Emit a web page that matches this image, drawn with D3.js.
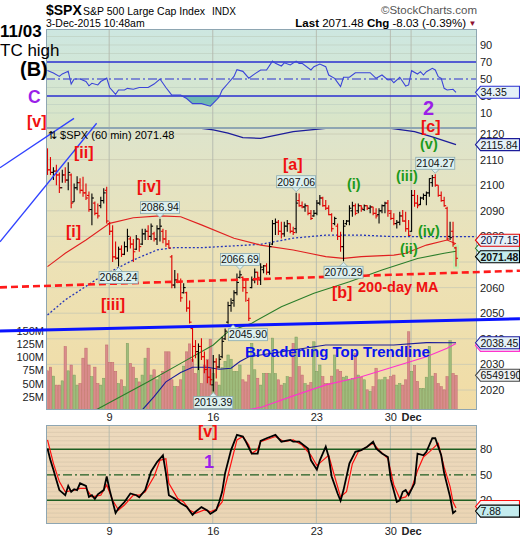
<!DOCTYPE html>
<html>
<head>
<meta charset="utf-8">
<script src="https://d3js.org/d3.v7.min.js"></script>
<style>
html,body{margin:0;padding:0;background:#ffffff;}
svg{display:block;font-family:"Liberation Sans",Arial,Helvetica,sans-serif;}
</style>
</head>
<body>
<svg id="chart" width="520" height="540"></svg>
<script>
// ---------------- DATA ----------------
const dayTickIndex = [21, 56, 91, 116, 123];
const dayTickLabels = ["9", "16", "23", "30", "Dec"];
const priceTicks = [2020, 2030, 2040, 2050, 2060, 2080, 2090, 2100, 2110, 2120];
const priceGridTicks = [2020, 2030, 2040, 2050, 2060, 2070, 2080, 2090, 2100, 2110, 2120];
const volumeTicks = [25, 50, 75, 100, 125, 150];
const rsiTicks = [10, 30, 50, 70, 90];
const stochTicks = [20, 50, 80];

const highs = [2114.4,2111,2107,2108,2105,2106,2107,2109,2104.6,2100.7,
2103.5,2102.7,2103.3,2100.7,2097.5,2096.8,2093.6,2092.9,2095.5,2098.8,
2099.4,2085.7,2084.4,2078,2076,2076.5,2078,2083,2080,2079,
2080.5,2079,2083,2083,2084.4,2085,2081.8,2084.4,2086.94,2083,
2082.5,2078.6,2072.7,2066.9,2065.6,2063.6,2061.7,2058.4,2055,2044.7,
2039.5,2038.2,2040.2,2035,2031.7,2028.4,2033.7,2032.4,2034,2040.8,
2044,2054.5,2055.8,2059,2065.5,2066.69,2064.3,2063,2056,2064.3,
2067.5,2066.2,2069.5,2068.8,2069.5,2077.3,2086.4,2087,2086.4,2085.7,
2085.7,2086.4,2085,2083.8,2097.06,2096.8,2093.6,2092.9,2092.2,2090.3,
2090.3,2094.2,2096.2,2095.5,2094.2,2092.2,2089,2087.7,2085,2081.8,
2086.4,2086.4,2092.2,2093.5,2092.9,2092.9,2092.2,2092.5,2092.2,2092.2,
2091.6,2091,2091,2092.5,2093.5,2094.2,2090.3,2089,2086.4,2089.6,
2090.3,2089.6,2086.4,2098.1,2098.1,2096.2,2095.5,2096.8,2097.5,2102.7,
2104,2104.27,2100,2097.5,2095.5,2091.6,2085.7,2085.7,2076];

const lows = [2104,2104,2102,2100,2097,2101,2101,2098,2091,2093.5,
2098,2096.8,2095.5,2094.2,2089.6,2084.4,2088.3,2087,2091,2092.9,
2085,2080.5,2070,2071,2068.24,2072,2072.7,2074,2075.3,2070,
2074.7,2074,2076.6,2078.6,2078.6,2078.6,2078,2076.6,2078,2077.3,
2076,2075.3,2059.7,2059.7,2061.7,2054.5,2057.7,2050.6,2046,2031,
2032.4,2027.8,2031.7,2026.5,2022.6,2021.9,2019.39,2024.5,2028.5,2032.4,
2039.5,2045.9,2050.6,2052.5,2057,2063.6,2058.4,2054.5,2047,2059.7,
2061.7,2061,2061,2065.6,2065,2065,2076.6,2080.5,2080.5,2079.2,
2079.9,2081.8,2081.2,2080.5,2081.2,2091.6,2091,2089.6,2088.3,2086.4,
2087.7,2088.3,2092.2,2091.6,2090.3,2088.3,2081.8,2084.4,2078.6,2074,
2070.29,2084.4,2084.4,2087.7,2088.3,2089,2089.6,2089.9,2090.3,2089,
2088.3,2087,2085,2089,2089,2087.7,2086.4,2084.4,2083.1,2084.4,
2085.7,2081.8,2080.2,2081.8,2091.6,2091,2092.2,2094.2,2092.2,2095.5,
2099.4,2099.4,2095.5,2093.5,2091.6,2078.6,2078.6,2076,2068.2];

const opens = [2110,2106,2105,2105.5,2104,2099,2104,2102,2104,2093.5,
2099,2101,2098,2097,2096,2090.5,2093,2089,2092,2094,
2098,2085,2082,2072,2071.5,2075,2073,2076,2079,2077,
2075,2079,2077,2081,2082,2080,2081,2079,2083,2082,
2079,2077,2072,2061,2063,2062,2058,2058,2052,2044,
2037,2035,2037,2033,2028,2025,2022,2031,2029,2033,
2040,2046.5,2053,2055,2058,2064,2064,2060,2055,2060,
2063,2066,2063,2067,2068.5,2066,2077,2085,2085.5,2082,
2081,2084,2085,2082,2083,2094,2092,2091.5,2092,2089,
2088,2089,2093,2095,2092,2091,2088.5,2085,2084,2080,
2076,2085,2086,2090,2092,2090,2092,2090.5,2092,2091,
2091.5,2089,2088.5,2090,2092,2093,2089,2087,2085,2085.5,
2088,2086,2083,2082,2096,2093,2092.5,2095,2096,2097,
2101,2103,2100,2096,2094,2091,2080,2082,2075.5];

const closes = [2106,2105,2105.5,2104,2099,2104,2102,2105,2093,2099,
2101,2098,2097,2095,2090.5,2095,2089,2088,2094,2097,
2086,2082,2072,2071.5,2075,2073,2076,2080,2077,2074,
2079,2076,2081,2082,2080,2084,2079,2083,2084,2079,
2077,2075.5,2061,2063,2062,2056,2060,2052,2046.5,2037,
2035,2037,2033,2028,2025,2024,2031,2029,2032,2039,
2043,2053,2054,2058,2062,2065,2060,2058,2048,2063,
2066,2064,2068,2068.5,2066,2076,2085,2085.5,2082,2081,
2084,2085,2082,2081.5,2093,2092,2091.5,2092,2089,2087,
2089,2093,2095,2092,2091,2088.5,2083,2087,2080,2076,
2084,2086,2091,2092,2089,2092,2091,2092,2091,2091.5,
2089,2088,2090,2092,2093,2090,2087,2085,2085.5,2088,
2086,2083,2080.4,2096,2093,2092,2095,2096,2097,2102.6,
2103,2100,2096,2094,2092,2079,2079.51,2077,2071.48];

// volume in millions
const volumes = [74,81,64,47,47,55,120,74,85,66,
47,50,98,117,85,63,81,50,47,60,
123,90,90,73,50,57,44,126,88,81,
60,53,66,98,117,66,76,57,63,73,
110,110,57,44,44,57,83,110,125,96,
69,107,50,85,96,134,69,53,47,80,
92,104,96,73,73,85,57,53,66,126,
76,60,47,69,69,69,136,69,57,47,
50,63,62,126,138,82,66,50,47,52,
129,73,85,63,50,50,64,104,76,73,
62,64,57,60,107,66,62,57,38,35,
44,79,57,57,62,57,63,66,47,50,
47,57,148,73,84,54,41,41,62,120,
64,69,50,44,38,63,131,69,65.5];

// RSI(14): [bar index, value]
const rsiPoints = [[0,60],[2,57],[4,53],[5,56],[7,59],[8,44],[9,50],[11,50],[13,47],[14,42],[15,45],[17,43],[18,47],[20,51],[21,40],[23,32],[24,37],[26,37],[27,39],[29,38],[31,40],[34,40],[36,44],[38,50],[40,40],[42,31],[45,31],[47,27],[49,21],[52,21],[55,18],[57,25],[58,29],[59,37],[61,45],[63,53],[64,61],[66,59],[68,51],[70,56],[72,60.6],[74,60.6],[76,71],[77,68.4],[79,65.3],[80,69],[82,66.5],[84,71],[85,68.4],[86,68.4],[89,60.6],[90,64.5],[92,67.6],[94,64.5],[95,54.7],[97,50.8],[99,41],[100,52],[102,52],[104,57.4],[107,57.4],[109,57.4],[111,50.8],[113,54.7],[115,48.8],[116,49.6],[117,45.6],[119,52],[121,41.8],[122,43],[123,59.8],[125,55.9],[126,58.6],[127,54.7],[128,58.6],[130,62.6],[131,60.6],[132,52.7],[133,50.8],[134,39],[135,37],[137,37.9],[138,34.35]];

// Slow stochastics %K (black) and %D (red): [bar index, value]
const stochK = [[0,81],[1,67],[2,56],[3,44],[4,32],[6,26],[7,37],[8,30],[9,33],[10,32],[11,40],[13,37],[14,24],[15,26],[16,21.5],[17,27],[19,32],[20,48],[21,32],[23,5],[24,10.5],[26,18],[28,28],[30,26],[31,23.5],[33,32],[35,54],[37,65],[39,73],[40,52],[41,26],[43,22],[45,16.5],[47,12.5],[49,3],[50,6.5],[52,12],[54,8],[55,4],[57,8.5],[58,18],[59,30],[60,52],[62,79],[64,97],[66,95],[67,89],[69,75],[71,75],[72,90],[74,93],[77,97],[79,89],[82,91],[83,89],[85,89],[88,81],[89,67],[91,56],[92,67],[94,83],[95,71],[96,48],[98,28],[99,19.5],[100,32],[102,63.5],[104,77],[106,79],[108,83],[110,89],[111,81],[113,75],[115,71],[116,44],[118,18],[119,20],[120,30],[121,32],[122,26],[124,40],[125,75],[127,73],[128,77],[130,93],[131,93],[133,73],[134,52],[136,24],[137,5],[138,7.88]];
const stochD = [[0,91],[2,63.5],[4,42],[6,30],[9,32],[11,34],[13,34],[15,24],[18,26],[20,38],[22,20],[24,8.6],[26,14.5],[29,26],[31,26],[33,30],[36,48],[38,67],[40,69],[41,40],[44,22],[46,18],[48,8.6],[50,4.7],[53,8.6],[55,6.6],[57,9.4],[59,18],[60,36],[62,63.5],[64,91],[66,95],[68,85],[69,75],[71,80],[72,89],[77,95],[80,89],[83,91],[86,85],[89,73],[91,61],[93,67],[95,73],[97,48],[99,24],[101,30],[103,63],[105,77],[107,81],[110,87],[112,79],[115,69],[117,38],[119,22],[121,24],[123,34],[125,55],[127,71],[129,77],[132,87],[134,59],[136,36],[137,18],[138,10.9]];

// Price overlays: [bar index, price]
const maRed = [[0,2068.2],[6,2073.4],[13,2078.6],[21,2085.1],[29,2087.3],[38,2088],[45,2087.7],[52,2084.5],[63,2079.3],[72,2076.6],[83,2074.7],[94,2072.1],[100,2071.4],[106,2072.1],[117,2072.7],[121,2073.4],[128,2076.6],[135,2078.6],[138,2077.15]];
const maBlueDotted = [[0,2049.3],[6,2055.2],[18,2064.3],[29,2070.8],[37,2074.7],[43,2075.6],[52,2075.6],[63,2076.3],[72,2076.9],[83,2079.3],[94,2080.5],[106,2080.5],[117,2079.9],[138,2079.9],[146,2079.9]];
const maUpper = [[28,2125],[33,2122.4],[43,2122.2],[52,2122.2],[56,2121.6],[61,2120.3],[66,2118.6],[72,2118.3],[83,2120.9],[94,2122.2],[116,2122.2],[124,2120.9],[130,2118.9],[138,2115.84]];
const maGreen = [[16,2012],[34,2023.2],[45,2030.4],[56,2037.6],[61,2042.8],[69,2046.1],[79,2052.5],[90,2057.8],[102,2062.3],[113,2066.9],[125,2071.4],[134,2073.4],[138,2074.2]];
const maNavy = [[32,2012.2],[36,2017.4],[40,2023.2],[45,2026.8],[49,2028.9],[54,2028.9],[58,2028.1],[62,2028.5],[65,2031.1],[68,2033],[83,2035.6],[94,2037.6],[117,2037.6],[128,2038.5],[138,2038.45]];
const maMagenta = [[67,2012.2],[72,2013.2],[83,2017.7],[94,2022],[106,2025.2],[117,2029.1],[128,2033],[135,2036.3],[138,2038.2]];

// Drawn trendlines: [bar index, price]
const broadeningTrend = [[-16.05,2043.05],[159.6,2047.8]];
const dayMA200 = [[-16.05,2060.1],[159.6,2066.6]];
const wedgeLineA = [[-16.05,2106.8],[8.95,2126.1]];
const wedgeLineB = [[-16.05,2077.9],[16.6,2124.2]];

// Price callouts
const calloutValues = [2097.06, 2086.94, 2104.27, 2066.69, 2068.24, 2070.29, 2045.90, 2019.39];
const calloutIndex = [84, 38, 131, 65, 24, 100, 61, 56];
const calloutSide = ["high","high","high","high","low","low","low","low"];

// ---------------- LAYOUT ----------------
const svg = d3.select("#chart");
const L = 46, R = 477;
const rsiTop = 29, rsiBot = 128, mainTop = 128, mainBot = 410, stoTop = 425, stoBot = 524;

const x = d3.scaleLinear().domain([0, 138]).range([47.5, 456]);
const yP = d3.scaleLinear().domain([2020, 2120]).range([390, 134]);
const yV = d3.scaleLinear().domain([0, 150]).range([409.9, 330.7]);
const yR = d3.scaleLinear().domain([0, 100]).range([121.5, 36.5]);
const yS = d3.scaleLinear().domain([0, 100]).range([517.3, 432.3]);

const defs = svg.append("defs");
function grad(id, stops) {
  const g = defs.append("linearGradient").attr("id", id).attr("x1", 0).attr("y1", 0).attr("x2", 0).attr("y2", 1);
  stops.forEach(s => g.append("stop").attr("offset", s[0]).attr("stop-color", s[1]));
}
grad("gRsi", [[0, "#cde7e1"], [1, "#dae5c6"]]);
grad("gMain", [[0, "#dde4cc"], [0.45, "#ece2b7"], [1, "#f1dca5"]]);
grad("gSto", [[0, "#ecd9bd"], [1, "#ebd5b4"]]);
function clip(id, x0, y0, x1, y1) {
  defs.append("clipPath").attr("id", id).append("rect").attr("x", x0).attr("y", y0).attr("width", x1 - x0).attr("height", y1 - y0);
}
clip("cRsi", L, rsiTop, R, rsiBot);
clip("cMain", L, mainTop, R, mainBot);
clip("cSto", L, stoTop, R, stoBot);
clip("cRsiLow", L, yR(30), R, rsiBot);
clip("cRsiHigh", L, rsiTop, R, yR(70));

// panel backgrounds
[[rsiTop, rsiBot, "gRsi"], [mainTop, mainBot, "gMain"], [stoTop, stoBot, "gSto"]].forEach(p => {
  svg.append("rect").attr("x", L).attr("y", p[0]).attr("width", R - L).attr("height", p[1] - p[0])
    .attr("fill", `url(#${p[2]})`);
});

// horizontal grids
const gridG = svg.append("g");
d3.range(10, 101, 10).filter(v => ![30, 50, 70].includes(v)).forEach(v => {
  gridG.append("line").attr("x1", L).attr("x2", R).attr("y1", yR(v)).attr("y2", yR(v)).attr("stroke", "#bfd0c2").attr("stroke-width", 0.7);
});
priceGridTicks.forEach(v => {
  gridG.append("line").attr("x1", L).attr("x2", R).attr("y1", yP(v)).attr("y2", yP(v)).attr("stroke", "#c9c9b2").attr("stroke-width", 0.8);
});
d3.range(0, 106, 5).filter(v => ![20, 50, 80].includes(v) && yS(v) > stoTop).forEach(v => {
  gridG.append("line").attr("x1", L).attr("x2", R).attr("y1", yS(v)).attr("y2", yS(v)).attr("stroke", "#d2c1a6").attr("stroke-width", 0.6);
});
// vertical grids
dayTickIndex.forEach(i => {
  [[rsiTop, rsiBot], [mainTop, mainBot], [stoTop, stoBot]].forEach(p => {
    gridG.append("line").attr("x1", x(i) - 0.5).attr("x2", x(i) - 0.5).attr("y1", p[0]).attr("y2", p[1])
      .attr("stroke", "#b4b9ae").attr("stroke-width", 0.9);
  });
});

// ---------------- RSI PANEL ----------------
const rsiG = svg.append("g").attr("clip-path", "url(#cRsi)");
const rsiArea30 = d3.area().x(d => x(d[0])).y0(yR(30)).y1(d => yR(d[1]));
rsiG.append("path").datum(rsiPoints).attr("d", rsiArea30).attr("fill", "#6fb9b1").attr("clip-path", "url(#cRsiLow)");
const rsiArea70 = d3.area().x(d => x(d[0])).y0(yR(70)).y1(d => yR(d[1]));
rsiG.append("path").datum(rsiPoints).attr("d", rsiArea70).attr("fill", "#6fb9b1").attr("clip-path", "url(#cRsiHigh)");
[70, 30].forEach(v => rsiG.append("line").attr("x1", L).attr("x2", R).attr("y1", yR(v)).attr("y2", yR(v)).attr("stroke", "#2a2fd0").attr("stroke-width", 1.3));
rsiG.append("line").attr("x1", L).attr("x2", R).attr("y1", yR(50)).attr("y2", yR(50)).attr("stroke", "#2a2fd0").attr("stroke-width", 1.1).attr("stroke-dasharray", "9,3,2,3");
rsiG.append("path").datum(rsiPoints).attr("fill", "none").attr("stroke", "#3b44d8").attr("stroke-width", 1.1)
  .attr("d", d3.line().x(d => x(d[0])).y(d => yR(d[1])));

// ---------------- MAIN PANEL ----------------
const mainG = svg.append("g").attr("clip-path", "url(#cMain)");
// volume bars
const isUp = i => i === 0 ? closes[0] >= opens[0] : closes[i] >= closes[i - 1];
mainG.append("g").selectAll("rect").data(volumes).join("rect")
  .attr("x", (d, i) => x(i) - 1.2).attr("width", 2.4)
  .attr("y", d => yV(d)).attr("height", d => yV(0) - yV(d))
  .attr("fill", (d, i) => isUp(i) ? "#9fbc7c" : "#d98c8c")
  .attr("stroke", (d, i) => isUp(i) ? "#7c9c5c" : "#bf6a6a").attr("stroke-width", 0.5);

// last bar highlight
mainG.append("rect").attr("x", x(138) - 3).attr("width", 6)
  .attr("y", yP(highs[138]) - 2).attr("height", yP(lows[138]) - yP(highs[138]) + 4).attr("fill", "#c6ecb0");

const lineP = d3.line().x(d => x(d[0])).y(d => yP(d[1]));
mainG.append("path").datum(maNavy).attr("d", lineP).attr("fill", "none").attr("stroke", "#1c1c9a").attr("stroke-width", 1.1);
mainG.append("path").datum(maMagenta).attr("d", lineP).attr("fill", "none").attr("stroke", "#ff33cc").attr("stroke-width", 1.1);
mainG.append("path").datum(maGreen).attr("d", lineP).attr("fill", "none").attr("stroke", "#2a7d2a").attr("stroke-width", 1.1);
mainG.append("path").datum(maBlueDotted).attr("d", lineP).attr("fill", "none").attr("stroke", "#2535b8").attr("stroke-width", 1.3).attr("stroke-dasharray", "2,2");
mainG.append("path").datum(maRed).attr("d", lineP).attr("fill", "none").attr("stroke", "#e02020").attr("stroke-width", 1.1);
mainG.append("path").datum(maUpper).attr("d", lineP).attr("fill", "none").attr("stroke", "#1c1c9a").attr("stroke-width", 1.3);

// price bars
const barG = mainG.append("g");
highs.forEach((h, i) => {
  const c = isUp(i) ? "#000000" : "#e00000";
  const xi = x(i);
  barG.append("line").attr("x1", xi).attr("x2", xi).attr("y1", yP(h)).attr("y2", yP(lows[i])).attr("stroke", c).attr("stroke-width", 1.1);
  barG.append("line").attr("x1", xi - 2).attr("x2", xi).attr("y1", yP(opens[i])).attr("y2", yP(opens[i])).attr("stroke", c).attr("stroke-width", 1.1);
  barG.append("line").attr("x1", xi).attr("x2", xi + 2).attr("y1", yP(closes[i])).attr("y2", yP(closes[i])).attr("stroke", c).attr("stroke-width", 1.1);
});

// ---------------- STOCH PANEL ----------------
const stoG = svg.append("g").attr("clip-path", "url(#cSto)");
[80, 20].forEach(v => stoG.append("line").attr("x1", L).attr("x2", R).attr("y1", yS(v)).attr("y2", yS(v)).attr("stroke", "#1e5e22").attr("stroke-width", 1.4));
stoG.append("line").attr("x1", L).attr("x2", R).attr("y1", yS(50)).attr("y2", yS(50)).attr("stroke", "#1e5e22").attr("stroke-width", 1.2).attr("stroke-dasharray", "9,3,2,3");
const lineS = d3.line().x(d => x(d[0])).y(d => yS(d[1]));
stoG.append("path").datum(stochD).attr("d", lineS).attr("fill", "none").attr("stroke", "#ff1010").attr("stroke-width", 1.2);
stoG.append("path").datum(stochK).attr("d", lineS).attr("fill", "none").attr("stroke", "#000").attr("stroke-width", 1.8);

// panel borders
[[rsiTop, rsiBot], [mainTop, mainBot], [stoTop, stoBot]].forEach(p => {
  svg.append("rect").attr("x", L + 0.5).attr("y", p[0] + 0.5).attr("width", R - L - 1).attr("height", p[1] - p[0] - 1)
    .attr("fill", "none").attr("stroke", "#8ea6b2").attr("stroke-width", 1);
});

// ---------------- AXES ----------------
function styleAxis(g, size) {
  g.select(".domain").remove();
  g.selectAll("text").attr("font-family", "Liberation Sans, Arial, sans-serif").attr("font-size", size).attr("fill", "#222");
}
svg.append("g").attr("transform", `translate(${R},0)`)
  .call(d3.axisRight(yP).tickValues(priceTicks).tickSize(0).tickPadding(3).tickFormat(d3.format("d")))
  .call(g => styleAxis(g, 11));
svg.append("g").attr("transform", `translate(${L},0)`)
  .call(d3.axisLeft(yV).tickValues(volumeTicks).tickSize(0).tickPadding(2).tickFormat(d => d + "M"))
  .call(g => styleAxis(g, 11));
svg.append("g").attr("transform", `translate(${R},0)`)
  .call(d3.axisRight(yR).tickValues(rsiTicks).tickSize(0).tickPadding(3))
  .call(g => styleAxis(g, 11));
svg.append("g").attr("transform", `translate(${R},0)`)
  .call(d3.axisRight(yS).tickValues(stochTicks).tickSize(0).tickPadding(3))
  .call(g => styleAxis(g, 11));
[mainBot, stoBot].forEach(yb => {
  svg.append("g").attr("transform", `translate(0,${yb})`)
    .call(d3.axisBottom(x).tickValues(dayTickIndex).tickSize(0).tickPadding(3).tickFormat((d, k) => dayTickLabels[k]))
    .call(g => styleAxis(g, 11))
    .call(g => g.selectAll("text").attr("font-weight", (d, k) => dayTickLabels[k] === "Dec" ? "bold" : "normal").attr("dx", -0.5));
});

// ---------------- TRENDLINES (drawn annotations) ----------------
svg.append("path").datum(dayMA200).attr("d", lineP).attr("stroke", "#ff1a1a").attr("stroke-width", 2.6).attr("stroke-dasharray", "7,4").attr("fill", "none");
svg.append("path").datum(broadeningTrend).attr("d", lineP).attr("stroke", "#0a14ff").attr("stroke-width", 3).attr("fill", "none");
svg.append("path").datum(wedgeLineA).attr("d", lineP).attr("stroke", "#3042ff").attr("stroke-width", 1.3).attr("fill", "none");
svg.append("path").datum(wedgeLineB).attr("d", lineP).attr("stroke", "#3042ff").attr("stroke-width", 1.3).attr("fill", "none");

// ---------------- CALLOUTS ----------------
const calloutNudge = [0, 0, 0, 0, 0, 0, 20, 0];
calloutValues.forEach((v, k) => {
  const px = x(calloutIndex[k]);
  const cx = px + calloutNudge[k];
  const py = yP(v);
  const hi = calloutSide[k] === "high";
  const by = hi ? py - 5 - 12 : py + 5;
  const g = svg.append("g");
  g.append("rect").attr("x", cx - 19.5).attr("y", by).attr("width", 39).attr("height", 12)
    .attr("fill", "#dcf0ef").attr("stroke", "#8aa9ad").attr("stroke-width", 0.8);
  const tipX = Math.min(Math.max(px, cx - 15), cx + 15);
  const pts = hi ? [[tipX - 4, by + 12], [tipX + 4, by + 12], [tipX, py - 1]] : [[tipX - 4, by], [tipX + 4, by], [tipX, py + 1]];
  g.append("path").attr("d", d3.line()(pts) + "Z").attr("fill", "#dcf0ef").attr("stroke", "#8aa9ad").attr("stroke-width", 0.8);
  g.append("rect").attr("x", tipX - 3.4).attr("y", hi ? by + 10.5 : by + 0.6).attr("width", 6.8).attr("height", 1.2).attr("fill", "#dcf0ef");
  g.append("text").attr("x", cx).attr("y", by + 9.8).attr("text-anchor", "middle").attr("font-size", 10.5).attr("fill", "#111").text(v.toFixed(2));
});

// ---------------- RIGHT VALUE LABELS ----------------
function valueTag(yc, txt, stroke, fill, bold, color) {
  const x0 = 475.5, x1 = 519.5;
  const g = svg.append("g");
  g.append("path").attr("d", `M${x0},${yc} L${x0 + 5},${yc - 6} L${x1},${yc - 6} L${x1},${yc + 6} L${x0 + 5},${yc + 6} Z`)
    .attr("fill", fill).attr("stroke", stroke).attr("stroke-width", 1.1);
  if (txt) {
    g.append("text").attr("x", x0 + 5).attr("y", yc + 4).attr("font-size", 10.5).attr("font-weight", bold ? "bold" : "normal")
      .attr("fill", color || "#111").text(txt);
  }
}
valueTag(yP(2115.84), "2115.84", "#1c1c9a", "#e4f1f8");
valueTag(yP(2074.2) - 3, "", "#2a7d2a", "#e4f1f8");
valueTag(yP(2077.15) - 3.5, "2077.15", "#e00000", "#e4f1f8", false, "#0a0a40");
valueTag(yP(2071.48) - 1.5, "2071.48", "#000", "#c4ecef", true);
valueTag(yP(2038.2) + 2, "", "#ff33cc", "#e4f1f8");
valueTag(yP(2038.45), "2038.45", "#1c1c9a", "#e4f1f8");
valueTag(yV(65.49), "6549190", "#444", "#eef2f2");
valueTag(yR(34.35), "34.35", "#2a2fd0", "#e4f1f8");
valueTag(yS(10.9) - 1.5, "", "#ff1010", "#f4f4f4");
valueTag(yS(7.88) + 0.5, "7.88", "#000", "#c4ecef");

// ---------------- TEXT & ANNOTATIONS ----------------
function txt(xp, yp, s, size, weight, color, anchor) {
  return svg.append("text").attr("x", xp).attr("y", yp).attr("font-size", size).attr("font-weight", weight || "normal")
    .attr("fill", color || "#000").attr("text-anchor", anchor || "start").text(s);
}
// header
txt(46, 15, "$SPX", 14, "bold");
txt(83, 15, "S&P 500 Large Cap Index", 11.5).attr("textLength", 122).attr("lengthAdjust", "spacingAndGlyphs");
txt(212, 15, "INDX", 10);
txt(46, 26.5, "3-Dec-2015 10:48am", 10.5);
txt(477, 14, "©StockCharts.com", 11.5, "normal", "#555", "end");
const lastT = svg.append("text").attr("x", 466).attr("y", 26.5).attr("text-anchor", "end").attr("font-size", 11.5).attr("fill", "#000");
lastT.append("tspan").attr("font-weight", "bold").text("Last ");
lastT.append("tspan").text("2071.48  ");
lastT.append("tspan").attr("font-weight", "bold").text("Chg ");
lastT.append("tspan").text("-8.03 (-0.39%)");
txt(468.5, 25.5, "▼", 8, "normal", "#8e1030");
txt(48, 139, "⇅ $SPX (60 min) 2071.48", 11);

// left margin annotations
txt(0, 37.3, "11/03", 17, "bold");
txt(0, 55.5, "TC high", 17);
txt(20, 76, "(B)", 20, "bold");
txt(28, 103, "C", 17.5, "bold", "#9b1fe8");

const RED = "#f01010", GRN = "#1c9a1c", PUR = "#9b1fe8";
const annos = [
  [27, 126.7, "[v]", 16, RED], [74, 158.4, "[ii]", 16, RED], [66, 236.7, "[i]", 16, RED],
  [137, 191.7, "[iv]", 16, RED], [101, 310, "[iii]", 16, RED], [283, 170, "[a]", 16, RED],
  [332, 298, "[b]", 16, RED], [421, 131.7, "[c]", 16, RED],
  [347, 188.6, "(i)", 14.5, GRN], [396, 180.6, "(iii)", 14.5, GRN], [420, 148.6, "(v)", 14.5, GRN],
  [418, 235.6, "(iv)", 14.5, GRN], [400, 253.6, "(ii)", 14.5, GRN],
  [423, 115, "2", 20, PUR], [198, 437, "[v]", 16, RED], [204, 468, "1", 18, PUR]
];
annos.forEach(a => txt(a[0], a[1], a[2], a[3], "bold", a[4]));
txt(358, 292, "200-day MA", 14.5, "bold", RED);
txt(245, 357, "Broadening Top Trendline", 15, "bold", "#0a14f0");
</script>
</body>
</html>
